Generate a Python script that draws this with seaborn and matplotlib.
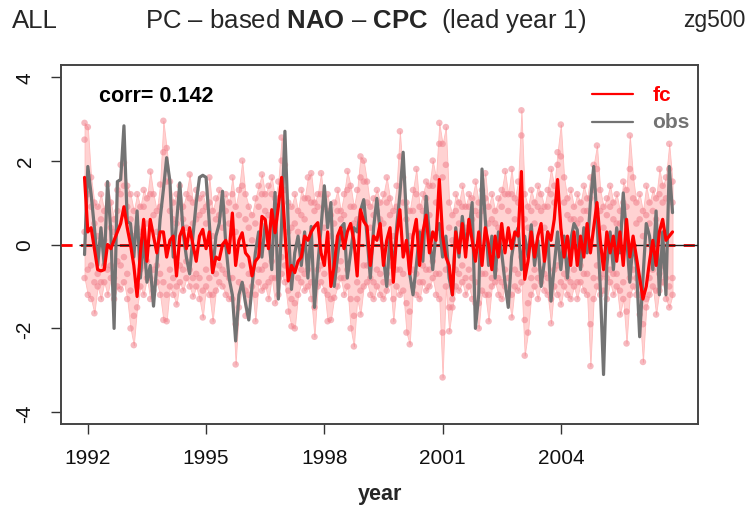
import numpy as np
import pandas as pd
import matplotlib
matplotlib.use("Agg")
import matplotlib.pyplot as plt
import seaborn as sns

# ---------------- data (monthly, Dec 1991 .. Nov 2006) ----------------
start_year = 1991.917
obs = [
    -0.24, 1.86, 1.2, 0.4, -0.5, 0.4, -0.5, 1.5, 0.3, -2.0, 1.5, 1.55,
    2.83, 0.55, 0.5, -0.3, 0.8, -0.8, 0.2, -0.9, -0.5, -1.47, -0.5, 0.6,
    1.3, 2.07, 1.5, -0.3, 0.5, 1.47, 0.3, -0.3, -0.7, 0.2, 1.0, 1.6,
    1.65, 1.6, 0.5, -0.67, 0.2, 0.5, 1.27, 0.0, -0.8, -1.2, -2.3, -1.2,
    -0.9, -1.4, -1.8, -1.0, -0.2, 0.3, -0.3, 0.5, 0.2, -0.6, 1.24, -1.3,
    0.5, 2.7, 0.5, -1.07, -0.2, 0.2, -0.5, 0.3, -0.8, 0.43, -1.5, -0.5,
    0.4, 1.4, 0.4, 1.0, -1.0, -0.3, 0.4, 0.5, -0.8, -0.2, 0.4, 0.3,
    0.8, 1.07, 0.2, -0.8, 0.4, 1.1, 0.3, -0.3, -1.0, 0.2, -0.6, 0.4,
    1.2, 2.2, 0.6, -0.7, -1.2, -0.5, 0.3, -0.4, 1.15, 0.2, -0.6, 0.3,
    0.5, -0.3, 0.2, -0.8, -1.2, 0.4, -0.3, 0.67, 0.0, 0.3, 1.0, -2.0,
    -1.2, 1.8, 0.6, -0.5, 0.2, -0.8, 0.3, -0.2, -0.9, -1.5, -0.3, 0.2,
    0.4, -0.6, 0.2, -0.3, 0.47, -0.5, 0.1, -1.0, -0.4, 0.3, -1.35, -0.5,
    0.3, -0.6, 0.2, -0.8, 0.1, 0.5, 0.35, -0.6, 0.4, -0.2, 1.0, 1.86,
    0.6, -1.0, -3.1, -0.5, 0.3, -0.6, 0.4, -0.2, 1.23, 0.2, -0.9, 0.1,
    -0.5, -2.2, -0.8, 0.5, 0.2, -0.6, 0.8, -1.2, 0.3, -1.2, 1.86, 0.76,
]
fc = [
    1.6, 0.3, 0.4, -0.1, -0.6, -0.63, -0.6, 0.0, -0.1, 0.1, 0.3, 0.5,
    0.9, 0.4, 0.0, -0.5, -1.24, -0.2, 0.6, -0.4, 0.6, 0.2, -0.2, 0.3,
    0.3, -0.3, 0.1, 0.2, -0.75, 0.2, 0.4, -0.1, 0.4, 0.0, -0.4, 0.2,
    0.36, -0.1, 0.3, -0.67, -0.3, -0.36, 0.0, 0.1, -0.2, 0.75, -0.5, 0.1,
    0.28, -0.2, -0.3, -0.75, -0.4, -0.3, 0.67, 0.6, -0.1, 0.83, 0.28, 0.9,
    1.6, 0.3, -0.87, -0.5, -0.67, -0.4, -0.3, 0.2, 0.1, 0.3, 0.43, 0.52,
    -0.2, -0.5, 0.3, -1.0, -0.5, 0.2, 0.4, -0.1, 0.3, 0.5, 0.1, -0.75,
    0.83, 0.55, 0.43, -0.5, 0.2, 0.1, 0.5, -0.5, 0.1, 0.4, -0.9, 0.2,
    0.83, -0.3, 0.1, -0.7, 0.2, 0.6, -0.5, 0.3, 0.7, -0.2, 0.3, 0.1,
    1.55, 0.2, -0.3, -0.5, -1.2, 0.3, -0.2, 0.5, -0.3, 0.6, 0.1, -0.4,
    0.3, -0.5, 0.4, 0.0, -0.6, 0.2, -0.3, 0.5, -0.2, 0.4, -0.1, 0.3,
    0.2, 1.74, -0.83, -0.4, 0.3, -0.3, 0.2, 0.5, -0.4, 0.3, 0.1, 0.6,
    1.55, 0.4, -0.3, 0.2, -0.5, 0.3, -0.5, 0.2, -0.3, 0.5, -0.2, 0.4,
    1.0, 0.1, -0.6, 0.3, -0.2, 0.2, -0.4, 0.3, -0.5, 0.6, -0.3, 0.2,
    -0.3, -0.8, -1.3, -1.0, -0.4, 0.1, -0.5, 0.3, 0.6, 0.1, 0.2, 0.3,
]
ens_max = [
    2.9, 2.8, 1.6, 1.0, 0.9, 1.2, 0.8, 1.43, 1.0, 0.6, 1.3, 1.9,
    1.95, 1.4, 1.2, 0.8, 1.2, 0.9, 1.3, 1.1, 1.74, 1.2, 0.8, 1.43,
    2.95, 2.3, 1.5, 1.0, 1.2, 1.4, 0.9, 1.2, 1.67, 1.0, 1.3, 1.1,
    1.2, 0.9, 1.6, 0.8, 1.1, 1.3, 0.9, 1.2, 1.0, 1.6, 0.9, 1.3,
    2.0, 1.2, 0.9, 0.7, 1.1, 1.4, 1.67, 1.2, 1.4, 1.6, 1.1, 1.5,
    2.55, 1.9, 1.0, 0.9, 1.2, 0.8, 1.3, 1.1, 1.6, 1.7, 1.0, 1.2,
    1.7, 0.9, 1.2, 0.7, 1.0, 1.3, 0.8, 1.2, 1.75, 1.4, 0.9, 1.3,
    2.1, 2.0, 1.5, 0.9, 1.1, 1.3, 1.0, 1.2, 1.6, 1.1, 0.8, 1.4,
    2.7, 1.6, 1.0, 0.8, 1.3, 1.8, 0.9, 1.2, 1.5, 1.4, 2.0, 1.6,
    2.9, 2.4, 2.8, 1.0, 0.7, 1.2, 1.0, 1.4, 0.9, 1.2, 1.1, 1.5,
    1.0, 1.3, 1.7, 0.9, 1.2, 0.8, 1.1, 1.3, 1.75, 1.2, 1.8, 1.1,
    1.5, 3.2, 1.2, 0.9, 1.3, 1.0, 1.4, 1.2, 0.9, 1.3, 1.8, 1.4,
    2.2, 2.86, 1.6, 1.1, 1.3, 0.9, 1.2, 1.0, 1.4, 1.1, 1.6, 1.9,
    2.36, 1.3, 0.9, 1.1, 1.4, 1.0, 1.2, 0.8, 1.5, 1.3, 2.6, 1.6,
    1.0, 1.2, 0.8, 1.4, 1.0, 1.3, 1.1, 1.8, 1.4, 1.6, 2.4, 1.5,
]
ens_upper = [
    2.5, 1.2, 0.9, 0.5, 0.2, 0.6, 0.1, 0.9, 0.4, 0.3, 0.8, 1.2,
    1.4, 0.9, 0.6, 0.2, 0.4, 0.3, 0.9, 0.5, 1.2, 0.7, 0.3, 0.9,
    2.2, 1.5, 0.8, 0.6, 0.5, 0.9, 0.6, 0.4, 1.1, 0.5, 0.6, 0.7,
    0.8, 0.5, 1.0, 0.2, 0.6, 0.7, 0.4, 0.8, 0.5, 1.2, 0.3, 0.7,
    1.4, 0.6, 0.4, 0.1, 0.5, 0.9, 1.2, 0.8, 0.7, 1.2, 0.6, 1.1,
    2.0, 1.3, 0.3, 0.4, 0.5, 0.3, 0.7, 0.6, 1.1, 1.0, 0.8, 0.9,
    1.2, 0.4, 0.8, 0.2, 0.5, 0.8, 0.6, 0.7, 1.3, 0.9, 0.5, 0.6,
    1.6, 1.5, 1.0, 0.4, 0.7, 0.8, 0.6, 0.5, 1.0, 0.7, 0.2, 0.9,
    2.1, 1.0, 0.6, 0.2, 0.8, 1.2, 0.3, 0.8, 1.1, 0.7, 1.4, 1.0,
    2.4, 1.6, 1.9, 0.4, 0.1, 0.8, 0.5, 0.9, 0.4, 0.9, 0.6, 0.8,
    0.7, 0.8, 1.1, 0.5, 0.6, 0.5, 0.4, 0.9, 1.2, 0.8, 1.2, 0.6,
    1.0, 2.6, 0.6, 0.4, 0.8, 0.5, 0.9, 0.8, 0.4, 0.9, 1.2, 1.0,
    1.9, 2.1, 1.0, 0.7, 0.6, 0.6, 0.5, 0.6, 0.8, 0.8, 1.1, 1.3,
    1.8, 0.8, 0.4, 0.7, 0.9, 0.6, 0.5, 0.5, 1.0, 0.9, 1.8, 1.1,
    0.5, 0.6, 0.2, 0.7, 0.5, 0.8, 0.6, 1.2, 1.0, 1.1, 1.8, 1.0,
]
ens_lower = [
    0.3, -0.6, -0.5, -0.9, -0.7, -0.9, -0.5, -0.6, -0.5, -0.8, -0.4, -0.5,
    -0.3, -0.7, -1.1, -1.7, -1.0, -0.6, -0.5, -0.4, -0.8, -0.6, -0.5, -0.7,
    -0.9, -1.2, -0.6, -0.8, -1.0, -0.5, -0.6, -0.4, -0.6, -0.8, -0.7, -0.8,
    -1.1, -0.6, -0.8, -1.2, -0.7, -0.5, -0.6, -0.7, -0.8, -0.8, -1.9, -0.9,
    -0.5, -1.1, -0.7, -0.7, -1.2, -0.6, -0.6, -0.5, -0.9, -0.4, -0.8, -0.8,
    -0.3, -0.5, -1.1, -1.3, -1.4, -0.8, -0.6, -0.7, -0.6, -0.9, -1.5, -0.6,
    -0.5, -0.7, -1.2, -1.3, -0.8, -0.6, -0.4, -0.8, -0.6, -1.3, -1.7, -0.9,
    -1.1, -0.5, -0.5, -0.8, -0.9, -0.6, -0.7, -0.9, -0.7, -0.5, -1.3, -0.6,
    -0.6, -0.7, -1.4, -1.6, -0.6, -0.7, -0.9, -0.5, -0.6, -0.6, -0.4, -0.7,
    -0.7, -2.1, -0.6, -1.5, -1.3, -0.6, -0.7, -0.5, -0.8, -0.6, -0.8, -0.9,
    -1.4, -0.7, -0.7, -1.2, -0.8, -0.6, -0.8, -0.9, -0.6, -0.8, -1.2, -0.6,
    -0.7, -0.3, -1.8, -1.4, -0.8, -0.6, -0.8, -0.6, -0.7, -0.8, -1.3, -0.6,
    -0.5, -0.9, -0.7, -0.8, -0.9, -0.6, -0.9, -0.5, -0.7, -0.7, -1.9, -0.8,
    -0.5, -0.8, -0.7, -0.8, -0.6, -0.7, -0.7, -1.1, -0.9, -1.6, -0.8, -0.6,
    -0.8, -1.2, -1.9, -1.3, -0.8, -0.6, -1.1, -0.7, -0.5, -0.8, -1.0, -0.8,
]
ens_min = [
    -0.8, -1.2, -1.3, -1.64, -1.0, -1.3, -0.9, -1.2, -0.8, -1.3, -1.0, -1.07,
    -0.9, -1.3, -2.0, -2.4, -1.5, -1.0, -1.2, -0.8, -1.3, -1.1, -0.9, -1.2,
    -1.8, -1.83, -1.0, -1.2, -1.43, -0.9, -1.1, -0.8, -1.0, -1.24, -1.0, -1.3,
    -1.74, -1.0, -1.2, -1.83, -1.1, -0.9, -1.0, -1.2, -1.3, -1.3, -2.86, -1.5,
    -1.0, -1.7, -1.2, -1.0, -1.83, -0.9, -1.1, -1.0, -1.3, -0.8, -1.4, -1.2,
    -0.7, -0.9, -1.6, -1.95, -2.0, -1.2, -0.9, -1.1, -1.0, -1.3, -2.2, -1.0,
    -0.9, -1.1, -1.83, -1.8, -1.27, -1.0, -0.8, -1.2, -1.0, -2.0, -2.43, -1.3,
    -1.67, -1.0, -0.9, -1.2, -1.3, -1.0, -1.2, -1.3, -1.1, -0.9, -1.83, -1.0,
    -1.2, -1.1, -2.1, -2.38, -1.0, -1.2, -1.3, -0.9, -1.1, -1.0, -0.8, -1.2,
    -1.3, -3.17, -1.0, -2.07, -1.5, -1.0, -1.1, -0.9, -1.2, -1.0, -1.3, -1.4,
    -2.0, -1.1, -1.2, -1.83, -1.0, -0.9, -1.2, -1.3, -1.0, -1.2, -1.74, -1.0,
    -1.1, -0.9, -2.65, -2.1, -1.2, -1.0, -1.3, -0.9, -1.1, -1.2, -1.88, -1.0,
    -1.2, -1.43, -1.0, -1.2, -1.3, -1.0, -1.3, -0.9, -1.1, -1.2, -2.9, -1.3,
    -1.0, -1.2, -1.1, -1.3, -0.9, -1.2, -1.0, -1.67, -1.3, -2.36, -1.2, -1.0,
    -1.2, -1.67, -2.8, -1.5, -1.2, -1.0, -1.67, -1.1, -0.9, -1.3, -1.5, -1.2,
]
xtick_years = [1992, 1995, 1998, 2001, 2004]
ytick_vals = [-4, -2, 0, 2, 4]
corr_text = "corr= 0.142"

# ---------------- figure ----------------
sns.set_theme(style="white")
plt.rcParams["font.family"] = ["Liberation Sans", "DejaVu Sans"]
plt.rcParams["mathtext.fontset"] = "custom"
plt.rcParams["mathtext.rm"] = "Liberation Sans"
plt.rcParams["mathtext.bf"] = "Liberation Sans:bold"

n = len(obs)
time = start_year + np.arange(n) / 12.0
df = pd.DataFrame({"time": time, "fc": fc, "obs": obs,
                   "ens_max": ens_max, "ens_min": ens_min,
                   "ens_upper": ens_upper, "ens_lower": ens_lower})
members = df.melt(id_vars="time", value_vars=["ens_max", "ens_upper", "ens_lower", "ens_min"],
                  var_name="member", value_name="value")

fig = plt.figure(figsize=(7.48, 5.06), dpi=100)
ax = fig.add_axes([61 / 748, 1 - 425 / 506, (698 - 61) / 748, (425 - 66) / 506])

band_lo = np.minimum(df["ens_min"], df["fc"])
band_hi = np.maximum(df["ens_max"], df["fc"])
ax.fill_between(df["time"], band_lo, band_hi, color="#ffd2d2", lw=0.6,
                edgecolor="#ffbcbc", zorder=1)
sns.scatterplot(data=members, x="time", y="value", ax=ax, color="#f0808c",
                alpha=0.55, s=22, edgecolor="none", legend=False, zorder=2)

ax.axhline(0, color="red", lw=2.0, ls=(0, (4, 3)), zorder=3)
ax.hlines(0, df["time"].iloc[0] - 0.15, 2007.6, color="#202020", lw=1.0, zorder=4)

sns.lineplot(data=df, x="time", y="obs", ax=ax, color="#737373", lw=2.3, zorder=5)
sns.lineplot(data=df, x="time", y="fc", ax=ax, color="#ff0000", lw=2.3, zorder=6)

ax.set_xlim(1991.32, 2007.48)
ax.set_ylim(-4.28, 4.28)
ax.set_xticks(xtick_years)
ax.set_xticklabels([str(y) for y in xtick_years])
ax.set_yticks(ytick_vals)
ax.set_yticklabels([str(v) for v in ytick_vals], rotation=90, va="center")
ax.tick_params(axis="both", direction="out", length=7, width=1.0, color="#333333",
               labelsize=15, labelcolor="#111111", pad=6, bottom=True, left=True)
ax.tick_params(axis="x", pad=10)
ax.tick_params(axis="y", pad=12)
for sp in ax.spines.values():
    sp.set_color("#444444")
    sp.set_linewidth(1.4)
ax.set_xlabel("year", fontsize=15.5, fontweight="bold", labelpad=12)
ax.set_ylabel("")

ax.text(0.06, 0.915, corr_text, transform=ax.transAxes, fontsize=15.5,
        fontweight="bold", color="black", va="center", ha="left")

# legend
ax.plot([0.833, 0.898], [0.918, 0.918], transform=ax.transAxes, color="red", lw=1.6)
ax.plot([0.833, 0.898], [0.842, 0.842], transform=ax.transAxes, color="#737373", lw=1.6)
ax.text(0.928, 0.918, "fc", transform=ax.transAxes, color="red", fontsize=15,
        fontweight="bold", va="center", ha="left")
ax.text(0.928, 0.842, "obs", transform=ax.transAxes, color="#737373", fontsize=15,
        fontweight="bold", va="center", ha="left")

# titles
fig.text(12 / 748, 1 - 21 / 506, "ALL", fontsize=18.5, ha="left", va="center")
fig.text(366 / 748, 1 - 21 / 506, r"PC – based $\mathbf{NAO}$ – $\mathbf{CPC}$  (lead year 1)",
         fontsize=18.5, ha="center", va="center")
fig.text(745 / 748, 1 - 21 / 506, "zg500", fontsize=16.5, ha="right", va="center")

fig.savefig("out.png", dpi=100)
